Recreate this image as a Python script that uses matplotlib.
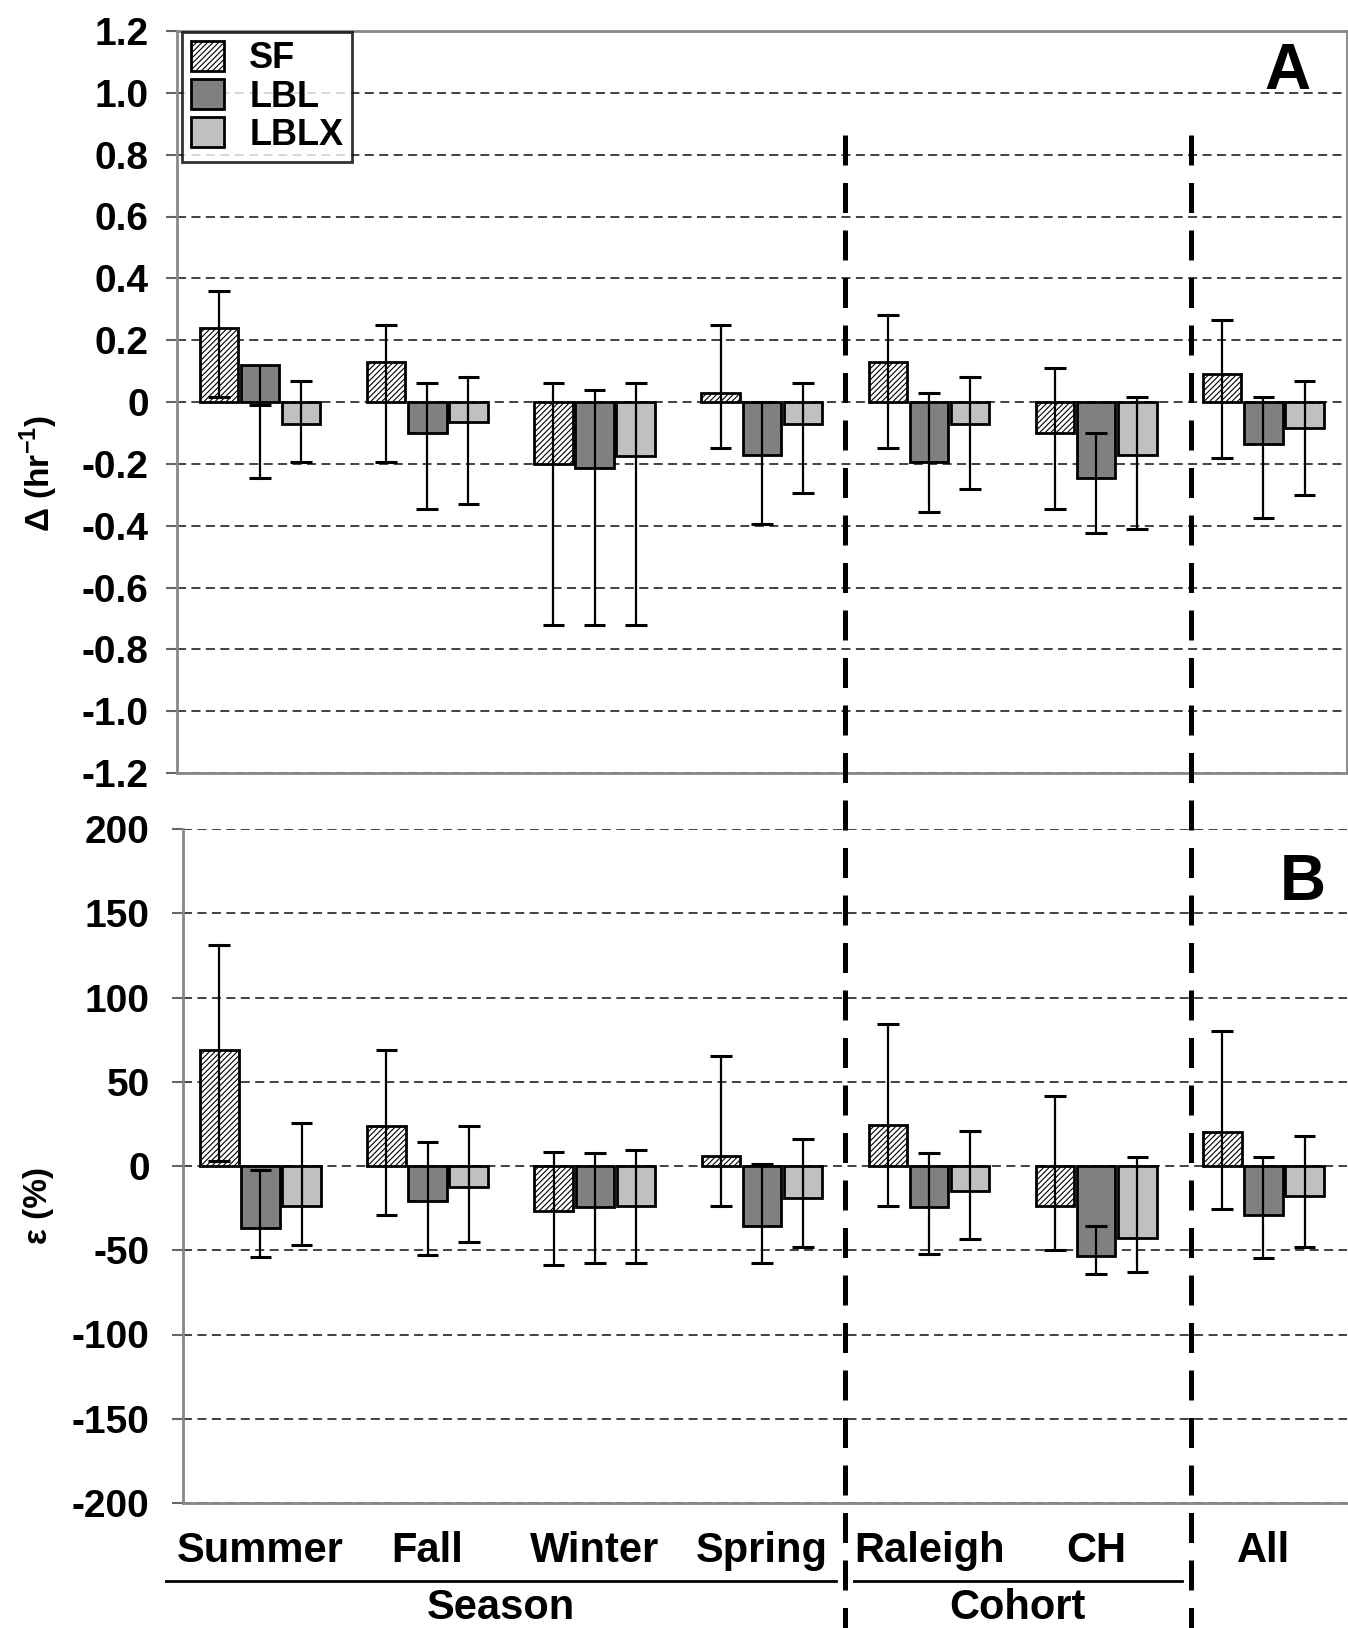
import matplotlib
matplotlib.use('Agg')
import matplotlib.pyplot as plt
import matplotlib.transforms as mtransforms
from matplotlib.lines import Line2D
from matplotlib.patches import Patch
import numpy as np

plt.rcParams['font.family'] = ['Liberation Sans', 'DejaVu Sans']
plt.rcParams['font.weight'] = 'bold'
plt.rcParams['mathtext.fontset'] = 'custom'
plt.rcParams['mathtext.rm'] = 'Liberation Sans:bold'
plt.rcParams['mathtext.bf'] = 'Liberation Sans:bold'
plt.rcParams['hatch.linewidth'] = 0.8
plt.rcParams['axes.unicode_minus'] = False

categories = ['Summer', 'Fall', 'Winter', 'Spring', 'Raleigh', 'CH', 'All']
series = ['SF', 'LBL', 'LBLX']
groups = ['Season', 'Cohort']

# panel A: delta (hr^-1); rows are SF, LBL, LBLX
a_val = [[0.24, 0.13, -0.20, 0.03, 0.13, -0.10, 0.09],
         [0.12, -0.10, -0.215, -0.17, -0.195, -0.245, -0.135],
         [-0.07, -0.065, -0.175, -0.07, -0.07, -0.17, -0.085]]
a_hi = [[0.36, 0.25, 0.06, 0.25, 0.28, 0.11, 0.265],
        [-0.01, 0.06, 0.04, 0.0, 0.03, -0.10, 0.017],
        [0.067, 0.082, 0.06, 0.06, 0.082, 0.017, 0.067]]
a_lo = [[0.015, -0.195, -0.72, -0.15, -0.15, -0.345, -0.18],
        [-0.245, -0.345, -0.72, -0.395, -0.355, -0.425, -0.375],
        [-0.195, -0.33, -0.72, -0.295, -0.28, -0.41, -0.30]]

# panel B: epsilon (%)
b_val = [[69, 23.5, -26.5, 6, 24.5, -23.5, 20],
         [-36.5, -21, -24.5, -35.5, -24.5, -53.5, -29],
         [-23.5, -12.5, -23.5, -19, -15, -42.5, -18]]
b_hi = [[131, 69, 8.5, 65, 84, 41.5, 80],
        [-2.5, 14, 7.5, 1, 7.5, -35.5, 5.5],
        [25.5, 23.5, 9.5, 16, 21, 5.5, 18]]
b_lo = [[3, -29, -58.5, -23.5, -23.5, -50, -25.5],
        [-54, -53, -57.5, -57.5, -52, -64, -54.5],
        [-47, -45, -57.5, -48, -43.5, -63, -48]]

faces = ['white', '#808080', '#c0c0c0']
hatches = ['//////', None, None]

W, H = 1348, 1628
fig = plt.figure(figsize=(W / 100, H / 100), dpi=100)
ax_a = fig.add_axes([176.5 / W, 1 - 773 / H, (1347 - 176.5) / W, (773 - 31) / H])
ax_b = fig.add_axes([183 / W, 1 - 1503 / H, (1347 - 183) / W, (1503 - 829) / H])

x = np.arange(len(categories))
off = 0.246
bw = 0.23


def draw(ax, val, hi, lo):
    for k in range(3):
        xs = x + (k - 1) * off
        ax.bar(xs, val[k], bw, color=faces[k], edgecolor='black', linewidth=2,
               hatch=hatches[k], zorder=3, label=series[k])
        v, h, l = np.array(val[k]), np.array(hi[k]), np.array(lo[k])
        ax.vlines(xs, np.minimum(v, l), np.maximum(v, h), color='black', lw=1.6, zorder=4)
        ax.hlines(h, xs - 0.065, xs + 0.065, color='black', lw=2.2, zorder=4)
        ax.hlines(l, xs - 0.065, xs + 0.065, color='black', lw=2.2, zorder=4)
    ax.yaxis.grid(True, linestyle=(0, (5, 3)), color='#333333', lw=1.3)
    ax.set_axisbelow(True)
    ax.tick_params(axis='y', labelsize=28, length=8, width=1.5, color='#666666')
    ax.tick_params(axis='x', length=0)
    for s in ax.spines.values():
        s.set_color('#888888')
        s.set_linewidth(2)


draw(ax_a, a_val, a_hi, a_lo)
ax_a.set_xlim(-0.5, 6.5)
ax_a.set_ylim(-1.2, 1.2)
ticks_a = np.round(np.arange(-1.2, 1.21, 0.2), 1)
ax_a.set_yticks(ticks_a)
ax_a.set_yticklabels(['0' if t == 0 else f'{t:.1f}' for t in ticks_a])
ax_a.set_xticks([])
ax_a.tick_params(axis='y', pad=12)

draw(ax_b, b_val, b_hi, b_lo)
ax_b.set_xlim(-0.463, 6.5)
ax_b.set_ylim(-200, 200)
ax_b.set_yticks(np.arange(-200, 201, 50))
ax_b.tick_params(axis='y', pad=16)
ax_b.spines['top'].set_visible(False)
ax_b.spines['right'].set_visible(False)
ax_b.set_xticks(x)
ax_b.set_xticklabels(categories, fontsize=30)
ax_b.tick_params(axis='x', pad=20)

# legend
handles = [Patch(facecolor=faces[k], edgecolor='black', hatch=hatches[k], lw=2)
           for k in range(3)]
leg = ax_a.legend(handles, series, loc='upper left', bbox_to_anchor=(0.005, 0.999),
                  fontsize=26, frameon=True, fancybox=False, edgecolor='black',
                  handlelength=0.9, handleheight=0.9, handletextpad=0.7,
                  labelspacing=0.08, borderpad=0.25, borderaxespad=0)
leg.get_frame().set_linewidth(2)

ax_a.text(0.969, 0.985, 'A', transform=ax_a.transAxes, ha='right', va='top',
          fontsize=46, fontweight='bold')
ax_b.text(0.982, 0.965, 'B', transform=ax_b.transAxes, ha='right', va='top',
          fontsize=46, fontweight='bold')

fig.text(39 / W, 1 - 473 / H, r'$\Delta$ (hr$^{\mathbf{-1}}$)', rotation=90,
         ha='center', va='center', fontsize=24, fontweight='bold')
fig.text(39 / W, 1 - 1205 / H, 'ε (%)', rotation=90,
         ha='center', va='center', fontsize=24, fontweight='bold')

# separators crossing both panels
to_fig = ax_a.transData + fig.transFigure.inverted()
for sx in [3.5, 5.57]:
    fx = to_fig.transform((sx, 0))[0]
    ln = Line2D([fx, fx], [1 - 135 / H, 0], transform=fig.transFigure,
                color='black', lw=3.6, dashes=(6, 3.5))
    fig.add_artist(ln)

# group underlines and names
tr = mtransforms.blended_transform_factory(ax_b.transData, ax_b.transAxes)
for name, (x0, x1) in zip(groups, [(-0.565, 3.442), (3.55, 5.51)]):
    ax_b.plot([x0, x1], [-0.1157, -0.1157], transform=tr, color='black', lw=2,
              clip_on=False)
    ax_b.text((x0 + x1) / 2, -0.156, name, transform=tr, ha='center', va='center',
              fontsize=30, fontweight='bold')

fig.savefig('out.png', dpi=100)
